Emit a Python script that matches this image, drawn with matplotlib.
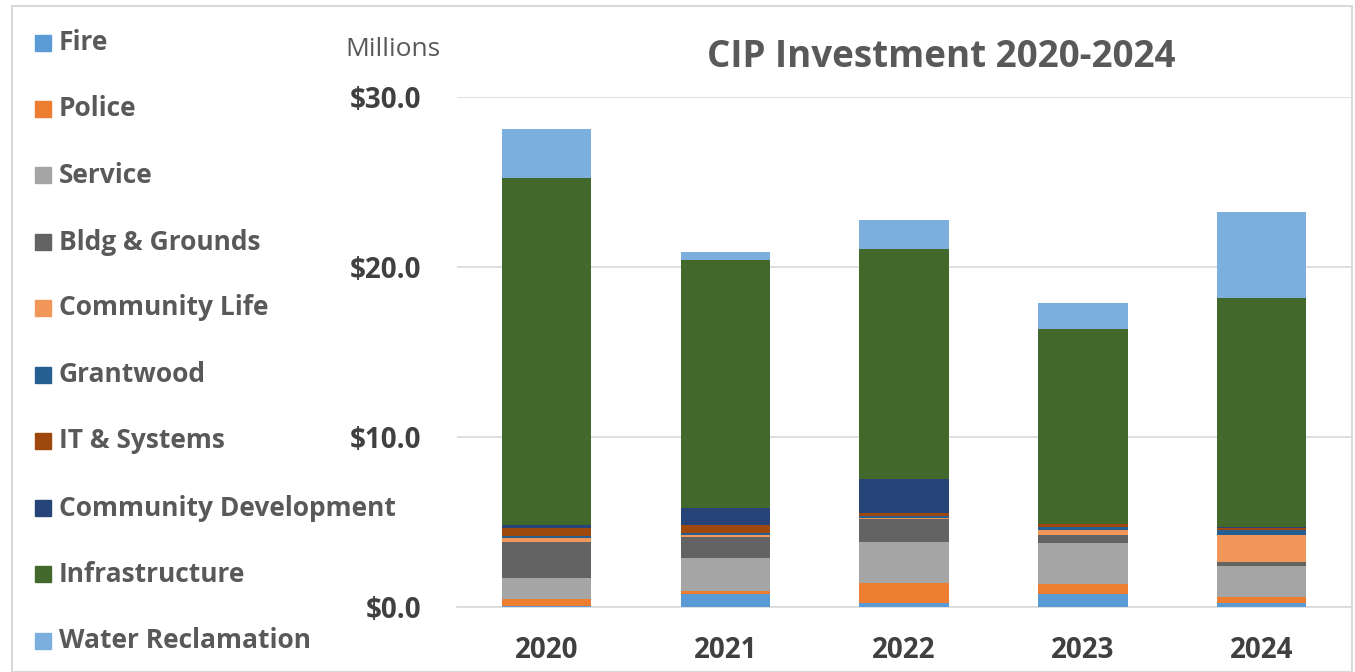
import matplotlib.pyplot as plt
import numpy as np
from matplotlib.patches import Rectangle

plt.rcParams['font.family'] = ['Open Sans', 'DejaVu Sans']

years = ["2020", "2021", "2022", "2023", "2024"]
categories = ["Fire", "Police", "Service", "Bldg & Grounds", "Community Life",
              "Grantwood", "IT & Systems", "Community Development",
              "Infrastructure", "Water Reclamation"]

# values in $ millions
fire = [0.05, 0.78, 0.24, 0.78, 0.25]
police = [0.43, 0.16, 1.16, 0.57, 0.35]
service = [1.24, 1.94, 2.41, 2.39, 1.80]
bldg_grounds = [2.12, 1.22, 1.35, 0.49, 0.27]
community_life = [0.22, 0.12, 0.10, 0.31, 1.57]
grantwood = [0.10, 0.14, 0.10, 0.18, 0.27]
it_systems = [0.47, 0.45, 0.18, 0.14, 0.14]
community_dev = [0.20, 1.02, 1.98, 0.05, 0.05]
infrastructure = [20.40, 14.60, 13.53, 11.45, 13.50]
water_reclamation = [2.88, 0.44, 1.70, 1.53, 5.06]

series = [fire, police, service, bldg_grounds, community_life, grantwood,
          it_systems, community_dev, infrastructure, water_reclamation]
colors = ["#5B9BD5", "#ED7D31", "#A5A5A5", "#636363", "#F1975A",
          "#255E91", "#9E480E", "#264478", "#43682B", "#7CAFDD"]

W, H = 1355, 672
fig = plt.figure(figsize=(W / 100, H / 100), dpi=100)

# axes: x from 457 to 1351 px, y from 97 (30) to 607 (0)
ax = fig.add_axes([457 / W, 1 - 607 / H, (1351 - 457) / W, (607 - 97) / H])

x = np.arange(len(years))
bottom = np.zeros(len(years))
for vals, col in zip(series, colors):
    ax.bar(x, vals, width=0.5, bottom=bottom, color=col, linewidth=0, zorder=3)
    bottom += np.array(vals)

ax.set_xlim(-0.5, len(years) - 0.5)
ax.set_ylim(0, 30)
ax.set_yticks([0, 10, 20, 30])
ax.set_yticklabels(["$0.0", "$10.0", "$20.0", "$30.0"])
ax.set_xticks(x)
ax.set_xticklabels(years)
ax.grid(axis='y', color='#D9D9D9', linewidth=1.2, zorder=0)
ax.set_axisbelow(True)
for s in ["top", "right", "left"]:
    ax.spines[s].set_visible(False)
ax.spines["bottom"].set_color("#D9D9D9")
ax.spines["bottom"].set_linewidth(1.2)
ax.tick_params(axis='both', length=0, labelsize=20, labelcolor="#404040")
ax.tick_params(axis='y', pad=26)
ax.tick_params(axis='x', pad=21)
for lbl in ax.get_xticklabels() + ax.get_yticklabels():
    lbl.set_fontweight("bold")

fig.text(941 / W, 1 - 57 / H, "CIP Investment 2020-2024", ha="center", va="center",
         fontsize=26.5, fontweight="bold", color="#595959")
fig.text(393 / W, 1 - 50 / H, "Millions", ha="center", va="center",
         fontsize=19, color="#595959")

# legend down the left side
legend_y = [43, 109, 175, 242, 308, 375, 441, 508, 574, 641]
for name, col, yy in zip(categories, colors, legend_y):
    fig.patches.append(Rectangle((35 / W, 1 - (yy + 8) / H), 16 / W, 16 / H,
                                 transform=fig.transFigure, color=col))
    fig.text(59 / W, 1 - yy / H, name, ha="left", va="center",
             fontsize=19, fontweight="bold", color="#595959")

# outer border
fig.patches.append(Rectangle((12 / W, 0), (1352 - 12) / W, 1 - 6 / H,
                             transform=fig.transFigure, fill=False,
                             edgecolor="#D9D9D9", linewidth=1.5))

fig.savefig("out.png", dpi=100)
